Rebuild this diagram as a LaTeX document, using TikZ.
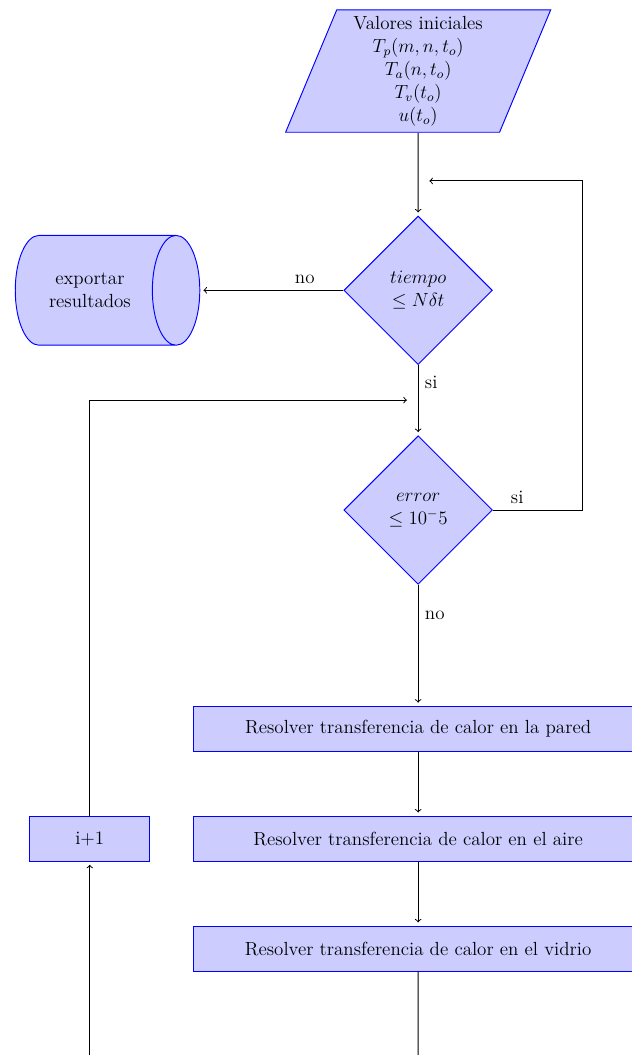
\documentclass[12pt,tikz,border=0pt]{standalone}
\usepackage{amsmath}
\usepackage{tikz}
\usetikzlibrary{positioning, shapes.geometric, calc}
\usepackage{xcolor}
\colorlet{BlockFill}{blue!20}
\colorlet{BlockStroke}{blue}
\colorlet{LineColor}{black}
\tikzset{
    % Datos de entrada (paralelogramo)
    datos/.style={
        draw=BlockStroke,
        fill=BlockFill,
        trapezium,
        trapezium left angle=70,
        trapezium right angle=110,
        trapezium stretches=true,
        minimum width=5.9cm,
        minimum height=2.71cm,
        align=center,
        semithick
    },
    % Decision (rombo)
    decision/.style={
        draw=BlockStroke,
        fill=BlockFill,
        diamond,
        aspect=1,
        minimum width=3.3cm,
        minimum height=3.3cm,
        inner sep=0pt,
        align=center,
        semithick
    },
    % Almacenamiento (cilindro)
    almacen/.style={
        draw=BlockStroke,
        fill=BlockFill,
        cylinder,
        minimum width=2.44cm,
        minimum height=4.1cm,
        align=center,
        semithick
    },
    % Proceso (rectangulo largo)
    bloque/.style={
        draw=BlockStroke,
        fill=BlockFill,
        rectangle,
        minimum width=10cm,
        minimum height=1cm,
        align=center,
        semithick
    },
    % Contador de iteraciones
    contador/.style={
        draw=BlockStroke,
        fill=BlockFill,
        rectangle,
        minimum width=2.67cm,
        minimum height=1cm,
        semithick
    },
    % Conector con flecha
    linea/.style={
        ->,
        semithick,
        shorten >=2pt,
        color=LineColor
    },
    % Conector sin flecha
    lineasola/.style={
        semithick,
        color=LineColor
    }
}
\begin{document}
\begin{tikzpicture}

    % recorte de la figura
    \useasboundingbox (0,0) rectangle (14.04,-23.44);
    \clip (0,0) rectangle (14.04,-23.44);

    % ==========================================
    % NODOS
    % ==========================================

    \node[datos] (inicio) at (9.29,-1.58)
        {Valores iniciales\\ $T_p(m,n,t_o)$\\ $T_a(n,t_o)$\\ $T_v(t_o)$\\ $u(t_o)$};
    \node[decision, below=1.84cm of inicio] (tiempo) {$tiempo$\\ $\leq N\delta t$};
    \node[almacen, left=3.18cm of tiempo] (exportar) {exportar\\ resultados};
    \node[decision, below=1.56cm of tiempo] (error) {$error$\\ $\leq 10^-5$};

    \node[bloque, below=2.69cm of error] (pared) {Resolver transferencia de calor en la pared};
    \node[bloque, below=1.42cm of pared] (aire) {Resolver transferencia de calor en el aire};
    \node[bloque, below=1.42cm of aire] (vidrio) {Resolver transferencia de calor en el vidrio};
    \node[contador, left=0.94cm of aire] (iter) {i+1};

    % puntos libres
    \coordinate (retorno) at (9.47,-4.02);
    \coordinate (vuelta) at (9.11,-8.89);
    \coordinate (bajo) at (9.29,-24);
    \coordinate (bajoiter) at (iter |- bajo);

    % ==========================================
    % CONECTORES
    % ==========================================

    \draw[linea] (inicio) -- (tiempo);
    \draw[linea] (tiempo) -- node[pos=0.27, above] {no} (exportar);
    \draw[linea] (tiempo) -- node[pos=0.25, right] {si} (error);
    \draw[linea] (error) -- node[pos=0.25, right] {no} (pared);
    \draw[linea] (pared) -- (aire);
    \draw[linea] (aire) -- (vidrio);

    % Lazo de tiempo (error aceptado)
    \draw[linea] (error.east) -- node[pos=0.27, above] {si} ++(2.0,0) |- (retorno);

    % Lazo de iteracion
    \draw[linea] (iter) |- (vuelta);
    \draw[lineasola] (vidrio) -- (bajo);
    \draw[linea] (bajoiter) -- (iter);

\end{tikzpicture}
\end{document}
